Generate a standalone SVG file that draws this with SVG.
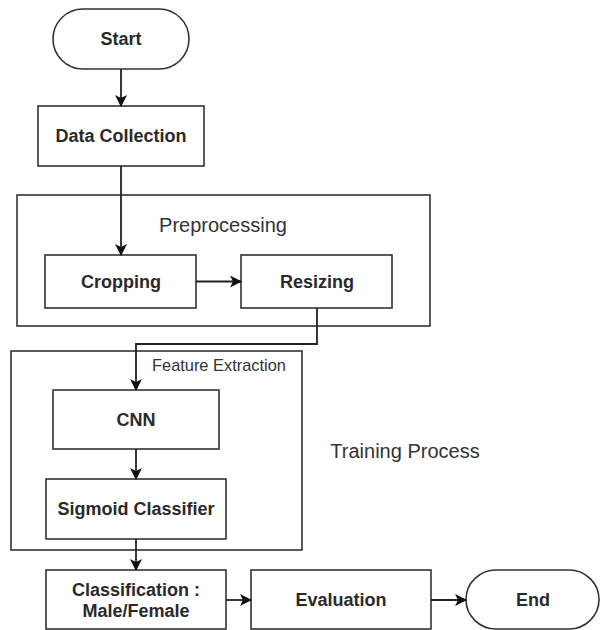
<svg xmlns="http://www.w3.org/2000/svg" width="600" height="630" viewBox="0 0 600 630">
<defs>
<marker id="a" viewBox="0 0 12 12" refX="11" refY="6" markerWidth="12" markerHeight="12" markerUnits="userSpaceOnUse" orient="auto">
<path d="M0,0 L12,6 L0,12 L3,6 z" fill="#111"/>
</marker>
</defs>
<style>
.box{fill:#fff;stroke:#333;stroke-width:1.6}
.grp{fill:none;stroke:#333;stroke-width:1.6}
.lbl{font-family:"Liberation Sans",Arial,sans-serif;font-size:18px;font-weight:bold;fill:#2a2a2a;text-anchor:middle}
.big{font-family:"Liberation Sans",Arial,sans-serif;font-size:20px;fill:#333;text-anchor:middle}
.small{font-family:"Liberation Sans",Arial,sans-serif;font-size:16.4px;fill:#333}
.edge{fill:none;stroke:#222;stroke-width:1.8;marker-end:url(#a)}
</style>
<rect width="600" height="630" fill="#fff"/>
<g id="preprocessing">
<rect class="grp" x="17" y="195" width="413" height="131"/>
<text class="big" x="223" y="232">Preprocessing</text>
</g>
<g id="feature-extraction">
<rect class="grp" x="11" y="351" width="291" height="199"/>
<text class="small" x="152" y="371">Feature Extraction</text>
</g>
<g id="training-process">
<text class="big" x="405" y="458">Training Process</text>
</g>
<g id="start">
<rect class="box" x="53" y="9" width="136" height="60" rx="30" ry="30"/>
<text class="lbl" x="121" y="45">Start</text>
</g>
<g id="data-collection">
<rect class="box" x="38" y="106" width="166" height="60"/>
<text class="lbl" x="121" y="142">Data Collection</text>
</g>
<g id="cropping">
<rect class="box" x="45" y="255" width="151" height="53"/>
<text class="lbl" x="121" y="288">Cropping</text>
</g>
<g id="resizing">
<rect class="box" x="241" y="255" width="151" height="53"/>
<text class="lbl" x="317" y="288">Resizing</text>
</g>
<g id="cnn">
<rect class="box" x="53" y="390" width="166" height="59"/>
<text class="lbl" x="136" y="426">CNN</text>
</g>
<g id="sigmoid">
<rect class="box" x="46" y="479" width="180" height="60"/>
<text class="lbl" x="136" y="515">Sigmoid Classifier</text>
</g>
<g id="classification">
<rect class="box" x="46" y="570" width="180" height="59"/>
<text class="lbl" x="136" y="596">Classification :</text>
<text class="lbl" x="136" y="617">Male/Female</text>
</g>
<g id="evaluation">
<rect class="box" x="251" y="570" width="180" height="59"/>
<text class="lbl" x="341" y="606">Evaluation</text>
</g>
<g id="end">
<rect class="box" x="466" y="570" width="133" height="59" rx="30" ry="30"/>
<text class="lbl" x="533" y="606">End</text>
</g>
<g id="connectors">
<path class="edge" d="M121,69 V106"/>
<path class="edge" d="M121,166 V255"/>
<path class="edge" d="M196,281.5 H241"/>
<path class="edge" d="M317,308 V344 H136 V390"/>
<path class="edge" d="M136,449 V479"/>
<path class="edge" d="M136,539 V570"/>
<path class="edge" d="M226,600 H251"/>
<path class="edge" d="M431,600 H466"/>
</g>
</svg>
